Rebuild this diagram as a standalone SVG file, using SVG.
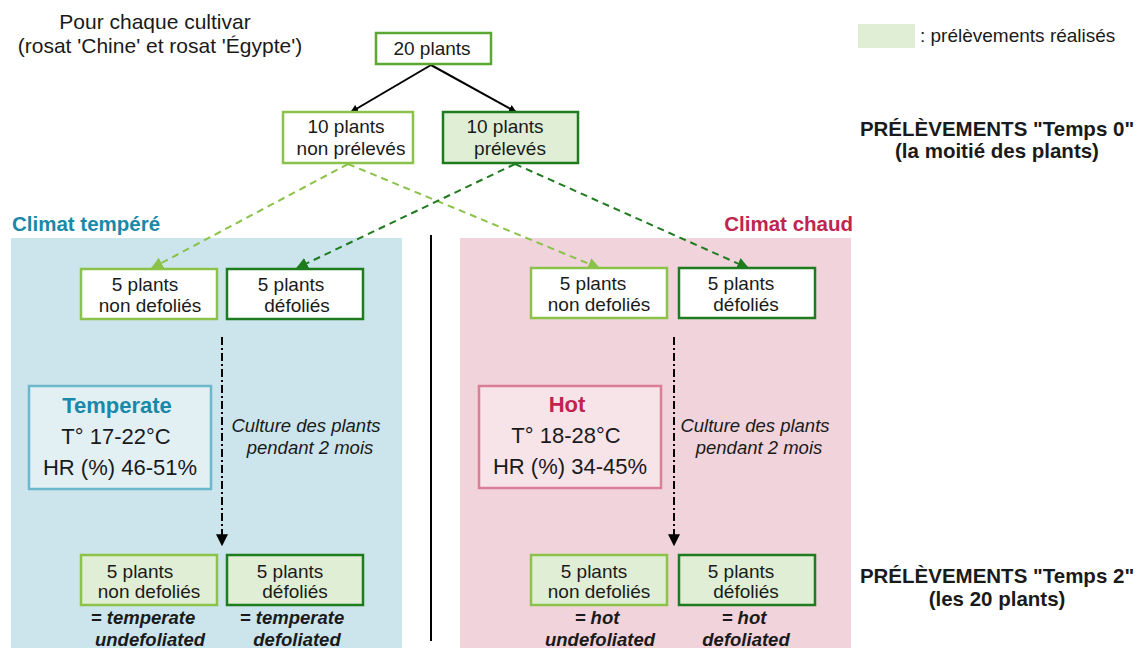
<svg xmlns="http://www.w3.org/2000/svg" width="1139" height="648" viewBox="0 0 1139 648">
<style>
text{font-family:"Liberation Sans",Arial,sans-serif;fill:#1a1a1a}
.t{font-size:19px;text-anchor:middle}
.h{font-size:21px;text-anchor:middle}
.s{font-size:20.5px;text-anchor:middle;font-weight:bold}
.b{font-weight:bold}
.lg{fill:#fff;stroke:#8bc34a;stroke-width:2.5}
.dg{fill:#fff;stroke:#1e7b1e;stroke-width:2.5}
.lgf{fill:#dfeed5;stroke:#8bc34a;stroke-width:2.5}
.dgf{fill:#dfeed5;stroke:#1e7b1e;stroke-width:2.5}
.it{font-size:18.5px;font-style:italic;text-anchor:middle}
.bi{font-size:18.5px;font-style:italic;font-weight:bold;text-anchor:middle}
.big{font-size:22px;text-anchor:middle}
</style>
<defs>
<marker id="ab" viewBox="0 0 10 10" refX="9" refY="5" markerWidth="8" markerHeight="8" orient="auto" markerUnits="userSpaceOnUse"><path d="M0,0 L10,5 L0,10 z" fill="#000"/></marker>
<marker id="al" viewBox="0 0 10 10" refX="9" refY="5" markerWidth="12" markerHeight="12" orient="auto" markerUnits="userSpaceOnUse"><path d="M0,0 L10,5 L0,10 z" fill="#8bc34a"/></marker>
<marker id="ad" viewBox="0 0 10 10" refX="9" refY="5" markerWidth="12" markerHeight="12" orient="auto" markerUnits="userSpaceOnUse"><path d="M0,0 L10,5 L0,10 z" fill="#1e7b1e"/></marker>
<marker id="ak" viewBox="0 0 10 10" refX="9" refY="5" markerWidth="12" markerHeight="12" orient="auto" markerUnits="userSpaceOnUse"><path d="M0,0 L10,5 L0,10 z" fill="#000"/></marker>
</defs>

<g id="panels">
<rect x="11" y="238" width="391" height="412" fill="#cce5ec"/>
<rect x="460" y="238" width="391" height="412" fill="#f0d3db"/>
<line x1="431" y1="235" x2="431" y2="641" stroke="#000" stroke-width="2"/>
<text x="12" y="231" font-size="20.5" class="b" style="fill:#1a88a8">Climat tempéré</text>
<text x="853" y="231" font-size="20.5" class="b" text-anchor="end" style="fill:#c0244f">Climat chaud</text>
</g>

<g id="header">
<text class="h" x="155" y="29">Pour chaque cultivar</text>
<text class="h" x="160" y="53">(rosat 'Chine' et rosat 'Égypte')</text>
</g>

<g id="legend">
<rect x="858" y="24" width="57" height="24" fill="#dfeed5"/>
<text x="920" y="42" font-size="19">: prélèvements réalisés</text>
</g>

<g id="labels-right">
<text class="s" x="997" y="136">PRÉLÈVEMENTS "Temps 0"</text>
<text class="s" x="997" y="158">(la moitié des plants)</text>
<text class="s" x="997" y="583">PRÉLÈVEMENTS "Temps 2"</text>
<text class="s" x="997" y="606">(les 20 plants)</text>
</g>

<g id="connectors">
<line x1="431" y1="65" x2="351" y2="112" stroke="#000" stroke-width="2" marker-end="url(#ab)"/>
<line x1="431" y1="65" x2="516" y2="112" stroke="#000" stroke-width="2" marker-end="url(#ab)"/>
<line x1="348" y1="164" x2="152" y2="268" stroke="#8bc34a" stroke-width="2" stroke-dasharray="7,5" marker-end="url(#al)"/>
<line x1="348" y1="164" x2="599" y2="268" stroke="#8bc34a" stroke-width="2" stroke-dasharray="7,5" marker-end="url(#al)"/>
<line x1="515" y1="164" x2="297" y2="268" stroke="#1e7b1e" stroke-width="2" stroke-dasharray="7,5" marker-end="url(#ad)"/>
<line x1="515" y1="164" x2="748" y2="268" stroke="#1e7b1e" stroke-width="2" stroke-dasharray="7,5" marker-end="url(#ad)"/>
<line x1="222" y1="337" x2="222" y2="545" stroke="#000" stroke-width="2" stroke-dasharray="8,3,2,3" marker-end="url(#ak)"/>
<line x1="674" y1="337" x2="674" y2="545" stroke="#000" stroke-width="2" stroke-dasharray="8,3,2,3" marker-end="url(#ak)"/>
</g>

<g id="n20">
<rect x="376" y="33" width="115" height="31" fill="#fff" stroke="#5aa832" stroke-width="2.5"/>
<text class="t" x="432" y="55">20 plants</text>
</g>
<g id="n10np">
<rect x="283" y="112" width="130" height="51" class="lg"/>
<text class="t" x="346" y="133">10 plants</text>
<text class="t" x="351" y="155">non prélevés</text>
</g>
<g id="n10p">
<rect x="443" y="112" width="135" height="51" class="dgf"/>
<text class="t" x="505" y="133">10 plants</text>
<text class="t" x="510" y="155">prélevés</text>
</g>

<g id="t-nd">
<rect x="81" y="269" width="136" height="50" class="lg"/>
<text class="t" x="145" y="291">5 plants</text>
<text class="t" x="150" y="312">non defoliés</text>
</g>
<g id="t-d">
<rect x="227" y="269" width="136" height="50" class="dg"/>
<text class="t" x="291" y="291">5 plants</text>
<text class="t" x="297" y="312">défoliés</text>
</g>
<g id="h-nd">
<rect x="531" y="268" width="136" height="50" class="lg"/>
<text class="t" x="593" y="290">5 plants</text>
<text class="t" x="599" y="311">non defoliés</text>
</g>
<g id="h-d">
<rect x="679" y="268" width="136" height="50" class="dg"/>
<text class="t" x="741" y="290">5 plants</text>
<text class="t" x="746" y="311">défoliés</text>
</g>

<g id="temperate">
<rect x="29" y="386" width="182" height="103" fill="#e2f0f4" stroke="#6bb8cc" stroke-width="2.5"/>
<text class="big b" x="117" y="413" style="fill:#1a88a8">Temperate</text>
<text class="big" x="116" y="444">T° 17-22°C</text>
<text class="big" x="120" y="475">HR (%) 46-51%</text>
</g>
<g id="hot">
<rect x="479" y="386" width="182" height="102" fill="#f6e4e9" stroke="#dc7e97" stroke-width="2.5"/>
<text class="big b" x="567" y="412" style="fill:#c0244f">Hot</text>
<text class="big" x="566" y="443">T° 18-28°C</text>
<text class="big" x="570" y="474">HR (%) 34-45%</text>
</g>

<g id="culture-l">
<text class="it" x="306" y="432">Culture des plants</text>
<text class="it" x="310" y="454">pendant 2 mois</text>
</g>
<g id="culture-r">
<text class="it" x="755" y="432">Culture des plants</text>
<text class="it" x="759" y="454">pendant 2 mois</text>
</g>

<g id="t2-nd">
<rect x="81" y="555" width="136" height="50" class="lgf"/>
<text class="t" x="140" y="578">5 plants</text>
<text class="t" x="149" y="598">non defoliés</text>
<text class="bi" x="143" y="624">= temperate</text>
<text class="bi" x="150" y="646">undefoliated</text>
</g>
<g id="t2-d">
<rect x="227" y="555" width="136" height="50" class="dgf"/>
<text class="t" x="290" y="578">5 plants</text>
<text class="t" x="295" y="598">défoliés</text>
<text class="bi" x="292" y="624">= temperate</text>
<text class="bi" x="297" y="646">defoliated</text>
</g>
<g id="h2-nd">
<rect x="531" y="555" width="136" height="50" class="lgf"/>
<text class="t" x="594" y="578">5 plants</text>
<text class="t" x="599" y="598">non defoliés</text>
<text class="bi" x="597" y="624">= hot</text>
<text class="bi" x="600" y="646">undefoliated</text>
</g>
<g id="h2-d">
<rect x="679" y="555" width="136" height="50" class="dgf"/>
<text class="t" x="741" y="578">5 plants</text>
<text class="t" x="746" y="598">défoliés</text>
<text class="bi" x="744" y="624">= hot</text>
<text class="bi" x="746" y="646">defoliated</text>
</g>
</svg>
